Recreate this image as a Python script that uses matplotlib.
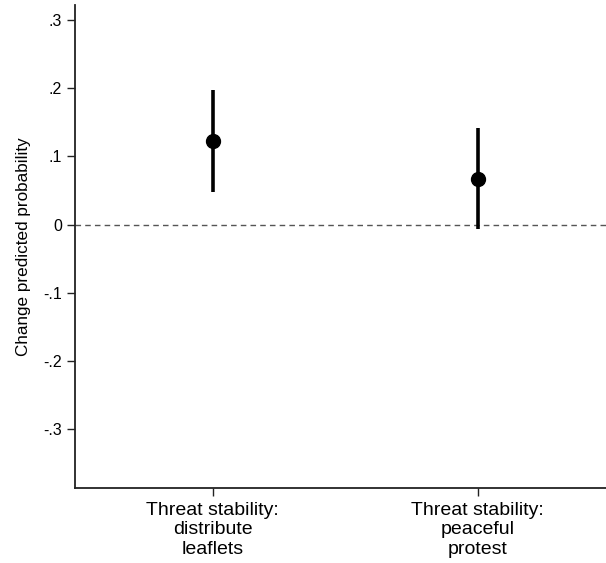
import matplotlib
matplotlib.use("Agg")
import matplotlib.pyplot as plt

categories = ["Threat stability:\ndistribute\nleaflets", "Threat stability:\npeaceful\nprotest"]
estimates = [0.123, 0.067]
ci_low = [0.047, -0.007]
ci_high = [0.198, 0.142]
yticks = [-0.3, -0.2, -0.1, 0, 0.1, 0.2, 0.3]
ytick_labels = ["-.3", "-.2", "-.1", "0", ".1", ".2", ".3"]

plt.rcParams['font.family'] = ['Liberation Sans', 'DejaVu Sans']

fig = plt.figure(figsize=(6.06, 5.63), dpi=100)
ax = fig.add_axes([75/606, 1-488/563, 531/606, 483/563])

xs = list(range(1, len(categories)+1))
ax.axhline(0, color="#555555", linestyle=(0, (4, 3)), linewidth=1.0, zorder=1)
for x, lo, hi in zip(xs, ci_low, ci_high):
    ax.plot([x, x], [lo, hi], color="black", linewidth=2.6, solid_capstyle="butt", zorder=2)
ax.plot(xs, estimates, "o", color="black", markersize=10, zorder=3)

ax.set_xlim(0.48, 2.484)
ax.set_ylim(-0.3865, 0.322)
ax.set_yticks(yticks)
ax.set_yticklabels(ytick_labels)
ax.set_xticks(xs)
ax.set_xticklabels(categories, linespacing=1.18)
ax.tick_params(axis="both", length=6, width=1.0, color="#222222")
ax.tick_params(axis="y", labelsize=11.5)
ax.tick_params(axis="x", labelsize=14, pad=4)
ax.spines["top"].set_visible(False)
ax.spines["right"].set_visible(False)
for s in ("left", "bottom"):
    ax.spines[s].set_linewidth(1.3)
    ax.spines[s].set_color("#222222")
ax.set_ylabel("Change predicted probability", fontsize=12.3, labelpad=9)

fig.savefig("out.png", dpi=100)
